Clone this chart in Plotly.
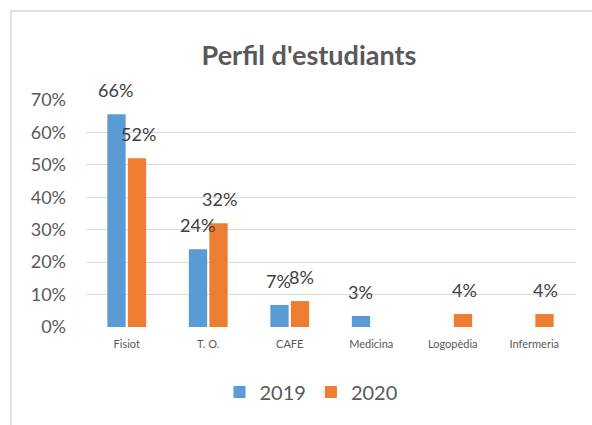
import plotly.graph_objects as go

categories = ["Fisiot", "T. O.", "CAFE", "Medicina", "Logopèdia", "Infermeria"]
series_names = ["2019", "2020"]
values_2019 = [0.656, 0.24, 0.068, 0.034, None, None]
values_2020 = [0.52, 0.32, 0.08, None, 0.04, 0.04]
colors = ["#5B9BD5", "#ED7D31"]

FONT = "Lato"
W, H = 592, 425
L, R, T, B = 86, 17, 100, 98

fig = go.Figure()
for name, vals, col in zip(series_names, [values_2019, values_2020], colors):
    fig.add_trace(go.Bar(x=categories, y=vals, name=name, marker=dict(color=col, line=dict(width=0))))

annotations = []
for k, vals in enumerate([values_2019, values_2020]):
    shift = -11.25 if k == 0 else 11.25
    for c, v in zip(categories, vals):
        if v is None:
            continue
        annotations.append(dict(x=c, y=v, xref="x", yref="y", text=f"{round(v*100)}%",
                                showarrow=False, xshift=shift, yshift=24, yanchor="middle",
                                font=dict(family=FONT, size=18, color="#404040")))

fig.update_layout(
    width=W, height=H,
    margin=dict(l=L, r=R, t=T, b=B),
    paper_bgcolor="white", plot_bgcolor="white",
    barmode="group", bargap=0.497, bargroupgap=0.107,
    title=dict(text="<b>Perfil d'estudiants</b>", x=309 / W, xref="container", xanchor="center",
               y=1 - 56 / H, yref="container", yanchor="middle",
               font=dict(family=FONT, size=27, color="#595959")),
    font=dict(family=FONT, color="#595959"),
    legend=dict(orientation="h", x=(311 - L) / (W - L - R), xanchor="center",
                y=(327 - 392) / (H - T - B), yanchor="middle",
                font=dict(family=FONT, size=20, color="#595959"), itemwidth=30),
    annotations=annotations,
    shapes=[dict(type="rect", xref="paper", yref="paper",
                 x0=(11 - L) / (W - L - R), x1=2,
                 y0=-2, y1=(H - B - 11) / (H - T - B),
                 line=dict(color="#D9D9D9", width=1.5), layer="below")],
)
fig.update_yaxes(range=[0, 0.7], dtick=0.1, tickformat=".0%", showgrid=True, gridcolor="#D9D9D9",
                 gridwidth=1, zeroline=False, showline=False, ticks="",
                 tickfont=dict(family=FONT, size=18, color="#595959"), ticklabelstandoff=19)
fig.update_xaxes(showgrid=False, showline=False, ticks="", zeroline=False,
                 tickfont=dict(family=FONT, size=11, color="#595959"), ticklabelstandoff=9)

fig.write_html("out.html", config={"displayModeBar": False},
               post_script="document.body.style.margin='0';document.body.style.overflow='hidden';")
